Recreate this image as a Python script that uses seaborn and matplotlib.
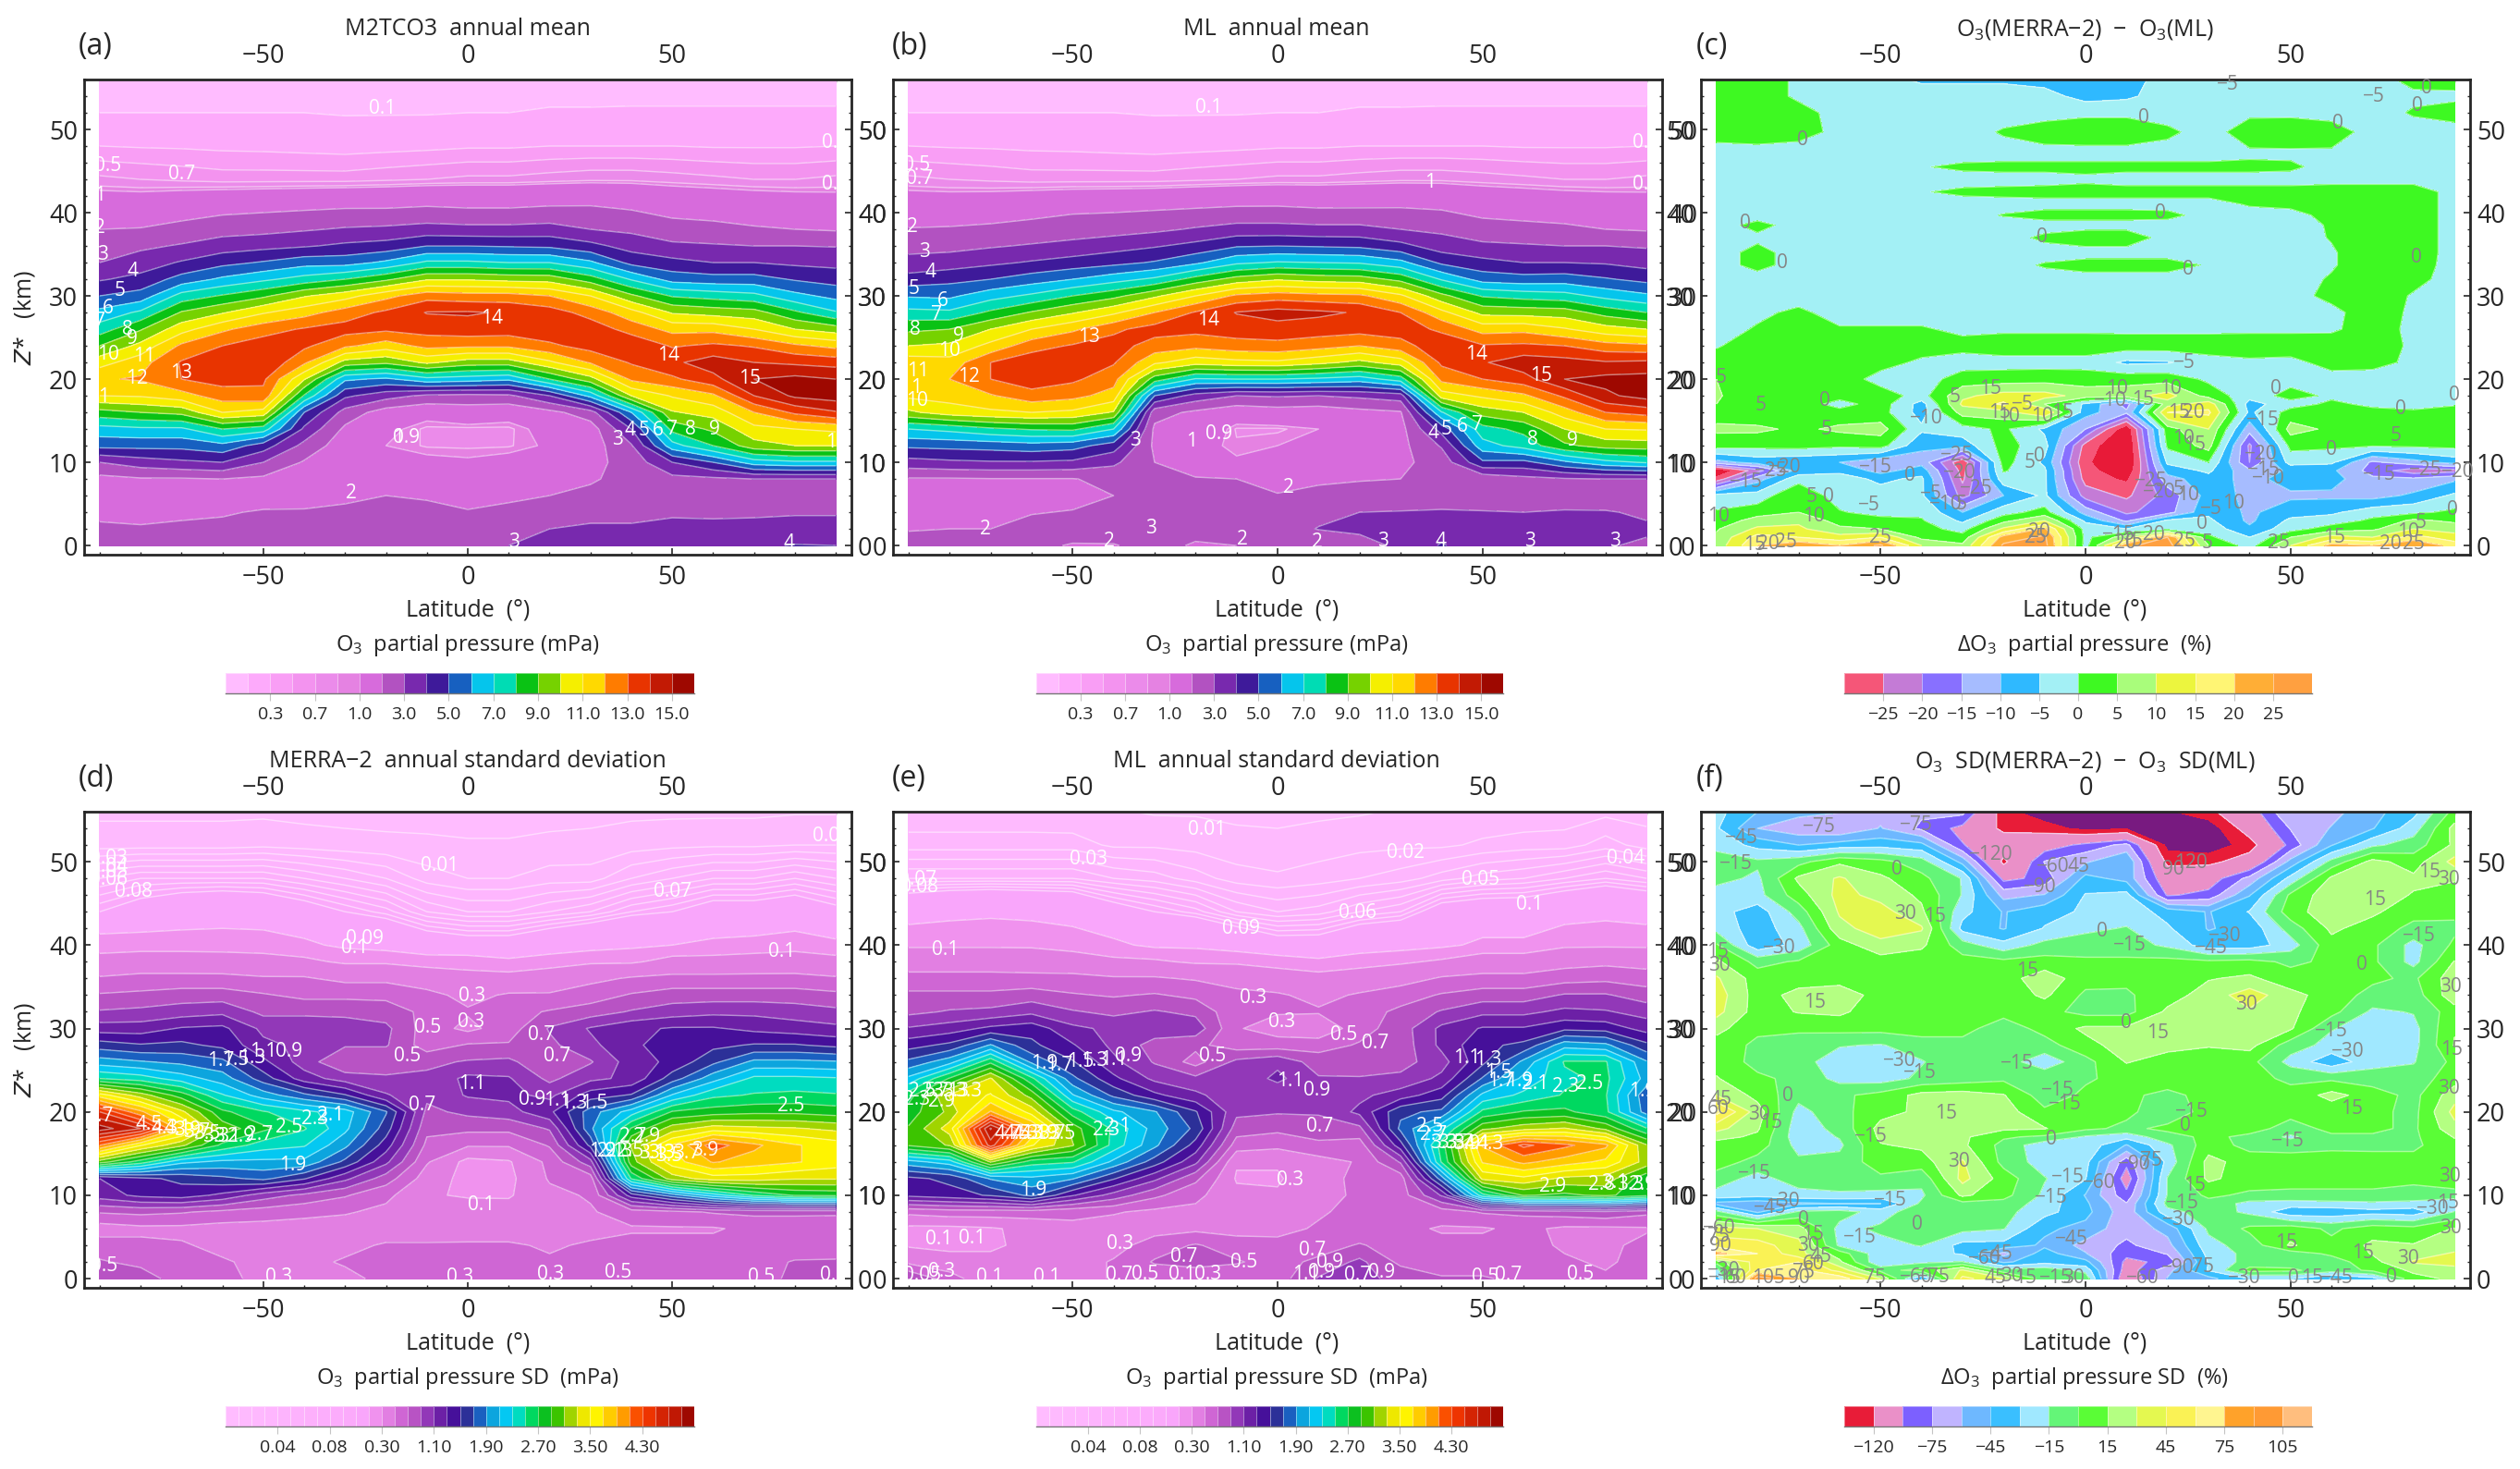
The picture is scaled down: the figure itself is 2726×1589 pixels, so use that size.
"""O3 partial pressure annual mean and SD: latitude vs altitude, six panels."""
import numpy as np
import matplotlib
import matplotlib.pyplot as plt
import matplotlib.ticker as mticker
from matplotlib.colors import ListedColormap
import seaborn as sns

matplotlib.use("Agg")

sns.set_style("ticks")
plt.rcParams["font.family"] = ["Open Sans", "DejaVu Sans"]
plt.rcParams["mathtext.default"] = "regular"
plt.rcParams["axes.unicode_minus"] = True

W, H = 2726, 1589

# Grid nodes
lats = [-90, -80, -70, -60, -50, -40, -30, -20, -10, 0, 10, 20, 30, 40, 50, 60, 70, 80, 90]
z_std = [0, 2, 4, 6, 8, 10, 12, 14, 16, 18, 20, 22, 24, 26, 28, 30, 32, 34, 36, 38, 40, 44, 48, 52, 56]
z_diff = [0, 1, 2, 3, 4, 6, 8, 9, 10, 12, 14, 16, 17, 18, 20, 22, 24, 26, 28, 30, 32, 34, 36, 38, 40, 42, 44, 46, 48, 50, 52, 54, 56]
z_diff_c = [0, 1, 2, 3, 4, 6, 8, 9, 10, 12, 14, 16, 17, 18, 20, 22, 24, 26, 28, 30,
            32, 33.7, 35.2, 37, 38.5, 39.7, 41, 42.5, 44, 45.5, 47, 49.7, 52, 54, 56]

# one row per latitude, one value per altitude node
m2_mean = [
    [2.6, 2.15, 1.8, 1.4, 1.7, 3, 5.3, 6.6, 8.6, 11, 11.9, 10.6, 9, 7.5, 6.3, 5, 3.9, 3, 2.5, 2, 1.5, .75, .3, .1, .06],
    [2.5, 2.1, 1.7, 1.4, 1.9, 3.5, 5.3, 6.8, 9, 11.1, 12.1, 11.6, 10.3, 8.9, 7.2, 5.4, 4.3, 3.5, 2.8, 2.05, 1.5, .7, .28, .1, .06],
    [2.45, 2.2, 1.8, 1.4, 1.9, 3.8, 5.3, 6.8, 9.3, 11.6, 13, 13.1, 12.2, 10.6, 9.1, 7.4, 5.4, 4.1, 3.1, 2.3, 1.7, .65, .27, .1, .06],
    [2.4, 2.25, 1.9, 1.4, 2, 4, 5.7, 8, 11, 12.5, 13.4, 13.6, 13, 11.8, 9.9, 8.1, 6.2, 4.7, 3.5, 2.6, 1.9, .6, .25, .1, .06],
    [2.4, 2.3, 2.1, 1.5, 1.8, 3, 4.5, 7.5, 10.6, 12.7, 13.2, 13.9, 13.5, 12.6, 10.9, 8.8, 6.8, 5.1, 3.7, 2.7, 2, .6, .24, .1, .06],
    [2.3, 2.25, 2.05, 1.8, 1.6, 1.9, 2.7, 3.8, 5, 7.9, 10.1, 12.2, 13.2, 13.1, 11.6, 9.9, 7.4, 5.6, 3.9, 2.9, 2.1, .6, .22, .1, .06],
    [2.3, 2.2, 2.1, 1.9, 1.6, 1.4, 1.4, 1.8, 2.6, 4.2, 6.2, 9.6, 12.2, 13.4, 12.5, 10.6, 8, 5.6, 4.2, 3.1, 2.2, .6, .2, .09, .05],
    [2.4, 2.3, 2.2, 2, 1.7, 1.3, 1, 1.1, 1.5, 3.4, 5.8, 9.2, 11.5, 13.2, 13.2, 11.7, 8.8, 6.2, 4.4, 3.2, 2.2, .65, .22, .09, .05],
    [2.5, 2.4, 2.25, 1.9, 1.5, 1.1, .88, .86, 1.15, 2.8, 6.7, 10.2, 12.3, 13.4, 14.05, 12.6, 9.9, 7.2, 5, 3.4, 2.3, .7, .24, .09, .05],
    [2.6, 2.3, 2.05, 1.75, 1.4, 1.05, .87, .85, 1.4, 2.7, 6.5, 9.5, 12.2, 13.6, 14.1, 12.4, 9.9, 7.2, 5, 3.3, 2.2, .75, .27, .1, .05],
    [3, 2.6, 2.2, 1.85, 1.5, 1.15, .88, .86, 1.2, 2.8, 6.2, 9.5, 12.2, 13.5, 13.9, 12.4, 9.7, 7, 4.9, 3.3, 2.2, .75, .27, .1, .05],
    [3.4, 3, 2.3, 2, 1.7, 1.35, 1.05, 1.15, 1.7, 4, 8, 10.8, 12.8, 13.7, 13.5, 12, 9.6, 7, 4.8, 3.4, 2.3, .8, .3, .11, .05],
    [3.5, 3.2, 2.6, 2.2, 1.9, 1.7, 1.5, 1.5, 2.55, 6.3, 9.6, 12.1, 13.4, 13.6, 12.6, 11, 8.5, 6.2, 4.3, 3, 2.3, .85, .3, .11, .05],
    [3.6, 3.1, 2.8, 2.5, 2.3, 2.4, 2.9, 4, 6, 10, 12.2, 13.1, 13.8, 12.6, 11.4, 9.2, 6.9, 4.7, 3.6, 2.8, 2.1, .85, .3, .11, .06],
    [3.7, 3.2, 2.9, 2.5, 2.7, 4, 6.6, 8.3, 9.9, 11.1, 12.8, 13.8, 12.9, 11.7, 9.9, 7.9, 5.6, 4.3, 3.2, 2.4, 1.8, .8, .3, .11, .06],
    [3.8, 3.3, 2.8, 2.6, 2.8, 5, 8, 9.2, 10.4, 11.8, 13.7, 14.5, 13.2, 11.7, 9.6, 7.6, 5.4, 4, 3.1, 2.3, 1.7, .75, .28, .11, .06],
    [3.85, 3.3, 2.85, 2.6, 3, 6.5, 9.6, 10.7, 12, 14, 15, 14, 12.9, 11, 9.4, 7.3, 5.4, 4, 3, 2.1, 1.6, .7, .28, .11, .06],
    [4.05, 3.4, 2.9, 2.6, 3, 6.8, 10, 11, 13.2, 15.2, 15.3, 13.8, 12.2, 10, 8.2, 6.3, 4.9, 3.8, 3, 2, 1.5, .7, .28, .11, .06],
    [4, 3.4, 2.9, 2.6, 3, 6.8, 10, 11.2, 13.9, 15.5, 15, 13.6, 11.7, 9.5, 7.1, 5.7, 4.6, 3.7, 2.95, 1.9, 1.4, .75, .3, .11, .06],
]
ml_mean = [
    [2.3, 1.95, 1.7, 1.3, 1.9, 3.6, 5.2, 7, 9.8, 11.2, 11.9, 11.6, 10, 8.8, 7.3, 5.9, 4.4, 3.3, 2.7, 2.05, 1.5, .75, .3, .1, .06],
    [2.2, 2, 1.6, 1.3, 1.9, 3.8, 5.3, 7.3, 10.5, 11.4, 12, 11.4, 10.2, 9, 7.2, 5.8, 4.7, 3.5, 2.7, 2.1, 1.5, .7, .28, .1, .06],
    [2.2, 2, 1.65, 1.35, 1.95, 3.9, 5.4, 7.8, 10.8, 11.9, 13, 13, 11.3, 10, 8.2, 6.6, 5, 3.8, 2.9, 2.2, 1.6, .65, .27, .1, .06],
    [2.15, 2.3, 1.95, 1.5, 1.95, 3.9, 5.6, 8.1, 11, 12.6, 13.6, 13.6, 12.6, 11, 9.1, 7.2, 5.5, 4.1, 3.1, 2.3, 1.8, .6, .25, .1, .06],
    [1.95, 2.3, 2.05, 1.7, 1.95, 3.8, 5.4, 8.2, 10.8, 12.3, 13.2, 13.5, 13.1, 11.8, 9.9, 8, 6, 4.4, 3.3, 2.5, 1.95, .6, .24, .1, .06],
    [1.95, 2.4, 2.3, 2, 2.3, 3.2, 4.5, 7, 9.9, 11.6, 12.4, 13.1, 13.4, 12.8, 10.8, 8.7, 6.6, 4.7, 3.6, 2.6, 2, .6, .22, .1, .06],
    [2.3, 2.7, 2.6, 2.4, 2.2, 2, 1.8, 1.8, 2.4, 5, 8.5, 11.2, 12.6, 13.4, 12, 9.8, 7.2, 5.1, 3.9, 2.8, 2.1, .6, .2, .09, .05],
    [1.9, 2.3, 2.4, 2.3, 2.05, 1.6, 1.15, 1.4, 1.8, 3.6, 6.9, 10.4, 12.3, 13.3, 13.1, 11, 8.4, 5.8, 4.3, 3.1, 2.2, .65, .22, .09, .05],
    [2, 2.5, 2.6, 2.3, 2, 1.05, .92, .88, 1.3, 3, 7, 10.7, 12.6, 13.5, 14.05, 12.2, 9.4, 6.8, 4.9, 3.4, 2.3, .7, .24, .09, .05],
    [2.5, 2.5, 2.4, 2.05, 1.7, 1.25, 1, .87, 1.5, 3.1, 7, 10.8, 12.7, 13.6, 14.4, 12.5, 9.9, 7.1, 5, 3.4, 2.3, .75, .27, .1, .05],
    [2, 3.05, 2.7, 2.25, 1.85, 1.5, 1.2, 1, 1.4, 3, 6.8, 10.3, 12.4, 13.5, 14.2, 12.3, 9.6, 7, 4.9, 3.3, 2.2, .75, .27, .1, .05],
    [2.8, 3.1, 3, 2.3, 1.95, 1.7, 1.5, 1.4, 1.7, 3.2, 6.5, 9.7, 12, 13.4, 13.9, 12.2, 9.5, 6.9, 4.8, 3.3, 2.2, .8, .3, .11, .05],
    [3.1, 3.2, 3.05, 2.4, 2, 1.8, 1.7, 1.65, 1.9, 3.5, 7.5, 10.5, 12.6, 13.5, 13, 11.2, 8.7, 6.3, 4.3, 3, 2.2, .85, .3, .11, .05],
    [4.1, 3.6, 3.1, 2.5, 2.2, 2.4, 3.1, 4.4, 6.9, 10.5, 12.3, 13.2, 13.7, 12.8, 11.3, 9.3, 6.9, 4.8, 3.5, 2.8, 2.1, .85, .3, .11, .06],
    [3.3, 3.4, 3.05, 2.5, 2.3, 4.8, 6.6, 7.6, 9.4, 11.2, 13, 13.9, 13.1, 11.6, 9.7, 7.9, 5.6, 4.3, 3.2, 2.4, 1.8, .8, .3, .11, .06],
    [3.1, 3.4, 3, 2.6, 2.7, 4.7, 7.4, 8.3, 10, 11.8, 13.6, 14.6, 13.2, 11.7, 9.6, 7.6, 5.4, 4, 3.1, 2.3, 1.7, .75, .28, .11, .06],
    [3.2, 3.4, 3.05, 2.7, 2.9, 5.8, 8.8, 10, 11.5, 13.2, 15, 14.4, 13, 11.1, 9.5, 7.4, 5.5, 4, 3, 2.2, 1.6, .7, .28, .11, .06],
    [3.05, 3.3, 3.05, 2.6, 3, 6.7, 9.4, 11, 13, 14.8, 15.3, 14.1, 12.4, 10.4, 8.6, 6.7, 5.1, 3.9, 3, 2, 1.5, .7, .28, .11, .06],
    [2.9, 3.1, 2.9, 2.6, 3, 7.1, 9.5, 11.1, 13.4, 15.4, 15.4, 14.2, 12.2, 10, 8, 6.2, 4.7, 3.6, 2.9, 1.9, 1.4, .75, .3, .11, .06],
]
m2_sd = [
    [.9, .72, .6, .4, .72, 1.2, 1.3, 3, 4.1, 5, 4.5, 3.6, 2.5, 2, 1.6, 1.2, .92, .72, .52, .35, .25, .1, .06, .015, .008],
    [.8, .65, .55, .45, .75, 1.35, 1.45, 2.6, 3.52, 4.7, 3.95, 3.2, 2.4, 1.92, 1.52, 1.2, .95, .75, .55, .38, .25, .12, .07, .015, .008],
    [.6, .55, .52, .45, .72, 1.4, 1.55, 2.15, 3.15, 3.8, 3.35, 2.8, 2.2, 1.85, 1.55, 1.32, 1, .8, .55, .38, .25, .14, .07, .015, .008],
    [.55, .52, .45, .42, .65, 1.25, 1.65, 2.05, 2.65, 3.02, 2.75, 2.32, 2, 1.75, 1.45, 1.35, 1.05, .8, .55, .37, .25, .15, .07, .015, .008],
    [.45, .45, .42, .42, .6, 1, 1.75, 2.05, 2.4, 2.75, 2.52, 2, 1.6, 1.35, 1.15, 1.05, .85, .72, .52, .35, .25, .14, .07, .017, .008],
    [.45, .45, .42, .42, .55, .85, 1.52, 2.05, 2.32, 2.52, 2.35, 1.75, 1.2, 1, 1.05, 1.05, .85, .65, .52, .33, .22, .12, .06, .015, .007],
    [.45, .52, .45, .4, .52, .72, 1.15, 1.65, 1.95, 2.15, 2.2, 1.52, 1, .72, .92, 1, .85, .65, .45, .28, .18, .1, .05, .013, .007],
    [.55, .6, .52, .4, .45, .55, .8, 1.15, 1.4, 1.6, 1.72, 1.12, .95, .72, .92, .95, .8, .65, .45, .28, .16, .085, .04, .012, .007],
    [.6, .6, .52, .4, .35, .32, .4, .52, .65, .75, .85, .95, .95, .85, .6, .6, .65, .55, .4, .25, .13, .06, .025, .012, .006],
    [.58, .58, .52, .42, .4, .28, .24, .24, .52, .75, .95, 1.12, 1.15, .92, .72, .45, .52, .45, .35, .25, .12, .05, .02, .011, .006],
    [.55, .55, .52, .42, .38, .28, .25, .28, .52, .75, 1.02, 1.15, 1.12, .95, .72, .6, .62, .52, .35, .22, .12, .05, .02, .011, .006],
    [.52, .52, .48, .42, .42, .45, .52, .55, .72, .92, 1.25, 1.05, .85, .72, .85, .92, .72, .52, .38, .25, .14, .06, .025, .012, .007],
    [.55, .55, .52, .45, .48, .52, .6, 1.02, 1.55, 1.85, 1.8, 1.4, 1.05, .88, 1.05, 1.12, .8, .6, .45, .28, .16, .07, .025, .013, .007],
    [.65, .62, .55, .48, .6, 1.4, 2.52, 3.02, 3.12, 2.72, 2.2, 1.52, 1.15, 1.2, 1.25, 1.25, .92, .72, .52, .28, .18, .09, .04, .015, .008],
    [.6, .6, .55, .48, .65, 1.8, 3.2, 3.6, 3.72, 3.2, 2.72, 2.12, 1.6, 1.35, 1.42, 1.32, 1, .8, .55, .35, .2, .1, .05, .017, .008],
    [.6, .55, .55, .48, .72, 2.2, 3.4, 3.92, 4.2, 3.4, 2.8, 2.45, 2.02, 1.65, 1.45, 1.32, 1.05, .8, .55, .35, .22, .12, .06, .018, .008],
    [.6, .6, .55, .55, .75, 2.52, 3.4, 3.8, 3.95, 3.35, 2.85, 2.52, 2.35, 1.95, 1.52, 1.25, 1.05, .8, .55, .37, .23, .12, .06, .018, .008],
    [.75, .72, .55, .55, .75, 2.72, 3.32, 3.72, 3.72, 3.32, 2.85, 2.55, 2.35, 1.95, 1.52, 1.2, 1, .8, .55, .38, .25, .13, .07, .02, .009],
    [.8, .72, .6, .52, .75, 2.75, 3.32, 3.6, 3.6, 3.25, 2.8, 2.52, 2.32, 1.92, 1.45, 1.15, .95, .75, .52, .35, .22, .11, .06, .02, .009],
]
ml_sd = [
    [.9, .45, .28, .25, .55, 1.35, 1.45, 2.02, 2.92, 2.92, 2.8, 2.6, 2.15, 1.75, 1.42, 1.12, .85, .75, .55, .42, .28, .15, .06, .025, .012],
    [.6, .35, .27, .25, .6, 1.42, 1.55, 2.2, 3.12, 3.4, 3.15, 3.32, 2.72, 2.02, 1.55, 1.2, .92, .75, .55, .42, .28, .17, .06, .025, .012],
    [.32, .35, .27, .28, .6, 1.52, 1.92, 3.12, 4.6, 4.92, 3.92, 3.52, 3.32, 2.65, 1.92, 1.35, .95, .75, .55, .42, .28, .18, .06, .025, .012],
    [.32, .35, .35, .35, .6, 1.75, 2.05, 2.6, 3.52, 3.92, 3.42, 3.02, 2.55, 1.85, 1.55, 1.42, 1.05, .8, .55, .4, .28, .17, .06, .025, .012],
    [.4, .4, .4, .45, .55, 1.32, 1.92, 2.52, 3.12, 3.02, 2.6, 2.12, 1.75, 1.52, 1.32, 1.15, .92, .72, .55, .38, .25, .16, .06, .025, .011],
    [.52, .52, .42, .4, .52, 1.02, 1.52, 2.05, 2.42, 2.45, 2.15, 1.65, 1.35, 1.15, 1.05, 1.05, .85, .68, .52, .33, .22, .12, .05, .018, .011],
    [.55, .72, .6, .42, .45, .75, 1.15, 1.6, 1.95, 2.02, 1.92, 1.35, 1.05, .88, .82, 1.02, .92, .72, .52, .32, .18, .1, .045, .018, .009],
    [.6, .75, .72, .45, .45, .55, .75, 1.15, 1.42, 1.65, 1.52, 1.15, .95, .62, .75, 1.02, .85, .65, .48, .28, .18, .085, .035, .016, .009],
    [.55, .72, .6, .42, .4, .35, .28, .32, .6, .8, .95, .95, .95, .95, .6, .52, .55, .55, .42, .28, .15, .06, .025, .013, .008],
    [.6, .62, .55, .45, .4, .32, .28, .32, .55, .75, .92, .95, 1.15, 1.05, .6, .4, .52, .52, .38, .25, .12, .05, .022, .012, .008],
    [.92, .75, .6, .52, .48, .4, .42, .42, .65, .82, .92, .92, .92, .8, .62, .33, .52, .45, .35, .22, .12, .055, .025, .015, .008],
    [.95, .95, .72, .55, .55, .55, .55, .52, .6, .85, 1.15, 1.05, .92, .75, .72, .62, .6, .52, .38, .25, .15, .07, .03, .017, .009],
    [.85, .65, .6, .55, .6, .6, .6, .92, 1.42, 1.75, 1.65, 1.2, .95, .82, .78, .8, .75, .6, .42, .28, .16, .08, .035, .018, .011],
    [.72, .6, .55, .48, .6, 1.12, 1.8, 2.52, 2.6, 2.25, 1.75, 1.42, 1.15, 1.02, 1.15, 1.15, .92, .72, .52, .32, .18, .12, .045, .018, .011],
    [.72, .6, .55, .48, .72, 2.42, 3.35, 3.72, 3.92, 3.05, 2.55, 2.15, 1.72, 1.45, 1.45, 1.32, 1.05, .8, .55, .38, .22, .13, .055, .022, .012],
    [.65, .6, .55, .55, .75, 2.92, 3.45, 3.95, 4.35, 3.22, 2.72, 2.35, 2.15, 1.95, 1.55, 1.32, 1.05, .8, .55, .38, .22, .13, .06, .025, .012],
    [.55, .52, .48, .46, .8, 2.85, 3.25, 3.8, 4.15, 3.32, 2.75, 2.52, 2.45, 2.52, 2.02, 1.45, 1.15, .92, .62, .42, .28, .15, .07, .025, .014],
    [.52, .48, .46, .46, .85, 2.95, 3.22, 3.65, 3.95, 3.05, 2.55, 2.52, 2.55, 2.52, 1.95, 1.42, 1.12, .92, .65, .45, .28, .17, .08, .035, .017],
    [.6, .55, .55, .48, .75, 2.75, 2.75, 3.22, 3.12, 2.52, 1.8, 1.75, 2.02, 1.92, 1.55, 1.22, 1.02, .8, .6, .42, .28, .15, .07, .025, .016],
]
diff_mean = [
    [7, 6, 4.5, 2, .5, -3, -28, -35, -12, 2, 6, 3, 5, 5.5, 5, 2.5, -.5, -2, -2, -2, -2, -2, -2, -2, -2, -2, -2, -2, -2, -2, -2, 1.8, 3, 3, 3],
    [20, 17, 11, 7, 3, -3, -12, -22, -8, 1.5, 6, 1.5, 3.5, 2, 3, 3.5, 3, .5, -1, -2, -2, 1.5, 1.5, -1, 1.5, -2, -2, -2, -2, -2, -2, 2.5, 2, 3, 3],
    [24, 15, 11, 9, 5, 5, -2, -8, -9, 2, 4, 1.5, 3, 2, 3, 3.5, 3.5, 3, 1, -2, -2, -2, -2, -2, -2, -2, -2, -2, -2, -2, -2, 1.5, 2, -1, -1],
    [20, 12, 6, 3, .5, -3, -3, -6, -10, 1, 6, 2, -2, 2, 3, 3.5, 3, .5, -2, -2, -2, -2, -2, -2, -2, -2, -2, -2, -2, -2, -2, -1, -2, -2, -2],
    [26, 15, 5, 2, -2, -3, -6, -12, -14, 2, 7, 2, 2.5, 2.5, -2, 2, 3, .5, -2, -2, -2, -2, -2, -2, -2, -2, -2, -2, -2, -2, -2, -2, -2, -2, -3],
    [10, 3.5, 2, .5, -1, -4, -4, -7, -12, -9, -4, -7, -7, -2, -2, -1, 2.5, .5, -2, -2, -2, -2, -2, -2, -2, -2, -2, -.3, -2, -.3, -2, -2, -2, -2, -6],
    [6, 2, -2, -6, -10, -22, -26, -27, -29, -8, -2, 7, 11, 9, 2, -2, 1.5, -1, -2, -2, -2, -2, -2, -2, -2, -2, -2, 1, -2, 1, -2, -2, -2, -2, -6],
    [26, 22, 11, 3.5, -2, -10, -2, .5, 2, 2, 1, 8, 16, 12, 2.5, -2, 3, -1, -2, -2, -2, -2, -2, -2, -2, .3, -2, 1.5, -2, 1.5, -2, .5, -2, -2, -6],
    [27, 26, 21, 10, 2, -4, -4, -4, -6, -3, -6, 15, 5, 12, 3, -2, 3, -1, -2, -2, -2, .5, -2, 1, -2, 2, -2, 2, -2, 1.5, -2, 2.5, -2, -3, -7],
    [-2, -1.5, -2, -6, -12, -22, -27, -28, -29, -27, -15, -8, -6, 8, 2.5, -2, 3, -1, -2, -2, -2, 2, -2, 3, -2, 2, -2, 2, -1, 1.5, -2, 3, -1, -7, -8],
    [24, 8, -5, -16, -21, -26, -31, -34, -36, -36, -34, -14, -17, 8, 3, -6, 2.5, -1, -2, -2, -2, 2, -2, 3, -2, 2, -2, 2, -2, 1.5, -2, 3, -1, -6, -7],
    [28, 25, -2, -4, -17, -18, -12, -8, -4, 1, 3, 15, 8, 12, 3, -5.5, 2.5, -1, -2, -2, -2, 2, -2, -2, -2, 1.5, -2, 2, -2, 1.5, -2, 1, -2, -2.5, -3],
    [5, 1, -2, -4, -6, -8, -7, -4, 0, 7, 10, 16, 13, 3, -1, -2, 2.5, -1, -2, -2, -2, -.5, -2, -2, -2, -2, -2, 2, -2, 1.5, -2, -2, -2, -2, -3],
    [-2, -5, -9, -11, -11, -11, -12, -14, -20, -21, -13, -6, -7, -3, -2, -1, 3, -1, -2, -2, -2, -2, -2, -2, -2, -2, .5, 2, -2, 1.5, -1, 2.5, -1, -2, -3],
    [10, 5, -2, -4, -7, -11, -7.5, -9, -3, 1.5, 7, 2, -2, 2, -2, -1.5, 3, -1, -2, -2, -2, -2, -2, -2, -2, -2, 1.5, 2, -2, 1, -1, 3, -1, -2, -2],
    [22, 12, 2.5, -2.5, -6, -11, -8, -9, -4, 1, 4, 1, 1, -1, -2, 2, 3.5, -1, -1.5, 1.5, .5, -.5, -.5, .3, .5, 2, .5, 3, -2, -2, -1, 2.5, -2, -2, -2],
    [20, 10, 4, 1, -2, -12, -14, -17, -16, .5, 5, 1.5, -1, -2, -2, 1.5, 3, 3, 3, 3, 3, 3, 3, 3, 3, 3, 3, 3, -2, -2, -2, -2, -2, -2, -2],
    [25, 17, 10, 6, -1, -9, -14, -23, -12, 1, 4, .5, -1, -2, -2, -1, -1, -1.5, -1, -.5, 1.5, 2.5, 3, 3, 3, 3, 3, 3, -2, -2, -2, -2, .5, -1, 1.5],
    [18, 12, 8, 4, 1, -4, -11, -22, -8, 1.5, 4, 2, -.5, -2, -2, -2, -2, -2, -2, -2, -2, -2, -2, -2, -2, -2, -2, -2, -2, -2, -2, -2, 2, -1, 2],
]
diff_sd = [
    [-40, -20, 5, 80, 55, 35, -10, -50, -20, -8, 8, 8, 20, 35, 65, 30, 16, 10, 8, 20, 35, 38, 32, 18, 2, -20, -24, -22, -10, -7, -20, -28, -25],
    [100, 60, 55, 60, 52, 30, -48, -55, -25, -20, -6, 8, 12, 17, 22, 10, 3, -5, -3, 3, 8, 8, 8, -5, -40, -38, -38, -20, -18, -12, -35, -60, -45],
    [75, 65, 60, 35, 35, 22, -12, -48, -20, -8, -12, -20, -24, -24, -20, -10, -4, -10, -8, 3, 16, 20, 8, 2, -25, -20, -8, 8, 18, -5, -45, -70, -55],
    [70, 40, 18, 8, -18, -20, -8, -45, -18, -5, -10, -18, -14, -10, -5, -3, -20, -22, -14, 5, 18, 25, 8, 4, 8, 25, 32, 35, 32, 12, -38, -74, -59],
    [30, -5, -28, -25, -20, -12, -22, -45, -20, -3, 8, 14, 18, 20, 10, 5, -22, -28, -16, 5, 6, 8, 6, 8, 25, 38, 36, 25, 18, 5, -35, -59, -65],
    [-46, 5, -18, -22, -14, -4, -5, -12, -18, -10, 8, 18, 22, 22, 18, 20, -12, -16, -8, 8, 6, 6, 7, 6, 18, 32, 18, 12, 4, -8, -40, -78, -72],
    [50, 32, -14, -32, -35, -10, -6, -5, 18, 35, 32, 18, 18, 22, 25, 22, -8, -5, -5, 5, 6, 6, 10, 6, -8, -35, -25, -16, -16, -50, -89, -95, -70],
    [32, -10, -48, -65, -35, -14, -10, -5, 5, 8, -5, -5, 2, 18, 22, 16, -3, -8, -5, -8, 5, 5, 8, 4, -25, -46, -46, -65, -95, -125, -105, -125, -130],
    [-8, -5, -35, -38, -48, -42, -25, -22, -18, -14, -22, -25, -3, 16, 3, -8, -4, -24, -6, 5, 5, 18, 24, 6, -10, -29, -35, -59, -85, -74, -100, -128, -145],
    [-5, -20, -40, -59, -65, -50, -40, -42, -46, -29, -25, -20, -17, 3, 5, 3, -2, -5, 10, 18, -5, -3, 6, 3, -8, -18, -28, -29, -40, -62, -85, -140, -150],
    [-110, -100, -95, -85, -78, -70, -70, -74, -85, -100, -85, -46, -25, -3, 3, 3, 5, 16, 22, 18, -5, -2, 3, 3, -8, -14, -22, -25, -50, -46, -70, -137, -150],
    [-59, -65, -85, -74, -65, -55, -20, -10, -14, -14, -25, -18, -5, 3, -8, -4, 8, 8, 20, 20, 18, 8, 8, 5, -18, -28, -35, -92, -105, -125, -140, -150, -137],
    [-50, -29, -29, -25, -20, -12, -8, -5, 3, 18, 20, 8, 3, 3, 5, 5, 8, 8, 16, 22, 22, 22, 14, 3, -38, -46, -46, -85, -100, -125, -145, -145, -125],
    [-29, 5, -8, -10, -8, 3, -18, -20, -3, 8, 8, -5, -3, 5, 6, 6, 5, 5, 20, 22, 28, 38, 18, 5, -38, -40, -29, -46, -70, -110, -128, -110, -100],
    [-29, 3, -8, -8, 17, 8, -40, -22, -3, 5, 6, -5, -18, -5, 4, 5, -3, -20, -8, 17, 18, 20, 6, -3, -22, -8, 8, 3, -25, -55, -85, -74, -59],
    [-46, -8, -8, 3, 4, -3, -40, -20, -3, 5, 6, -3, -2, 3, 6, 20, -3, -40, -20, -14, 5, 8, 5, 3, 10, 18, 25, 25, 18, -10, -46, -59, -65],
    [-35, 3, 10, 16, 18, 8, -35, -18, -3, 5, 5, -3, -2, 3, 5, 8, -8, -20, -25, -22, -18, -5, 3, 3, 3, 8, 18, 22, 25, 20, -18, -46, -50],
    [10, 18, 32, 22, 16, 5, -38, -20, -5, 3, 5, -3, -3, -3, -5, -5, -8, -16, -20, -20, -14, -8, -3, -20, -20, -4, 5, 14, 18, 8, -8, -22, -35],
    [18, 25, 35, 32, 22, 16, -14, -29, -5, 8, 8, 10, 16, 25, 35, 24, 8, 4, 16, 14, 8, 25, 24, 16, 3, -3, 3, 3, 18, 35, 18, 20, 5],
]

# Contour levels and band colours, from the colour bars
mean_levels = [0, .1, .3, .5, .7, .9, 1, 2, 3, 4, 5, 6, 7, 8, 9, 10, 11, 12, 13, 14, 15, 16]
mean_colors = ["#ffbcff", "#fdaafb", "#f99ef5", "#f393ef", "#eb8bea", "#e582e2", "#d76bdc", "#b252c1", "#7829ae",
               "#3e1a9a", "#1760c0", "#05c5ec", "#00dcb4", "#0ac214", "#76d200", "#f5ef00", "#ffd900", "#ff7c00",
               "#e83400", "#c21a04", "#9e0800"]
mean_ticks = {2: "0.3", 4: "0.7", 6: "1.0", 8: "3.0", 10: "5.0", 12: "7.0", 14: "9.0", 16: "11.0", 18: "13.0", 20: "15.0"}

sd_levels = [0, .01, .02, .03, .04, .05, .06, .07, .08, .09, .1, .2, .3, .5, .7, .9, 1.1, 1.3, 1.5, 1.7, 1.9, 2.1, 2.3,
             2.5, 2.7, 2.9, 3.1, 3.3, 3.5, 3.7, 3.9, 4.1, 4.3, 4.5, 4.7, 4.9, 5.1]
sd_colors = ["#ffbcff", "#febafe", "#feb8fe", "#feb6fe", "#fdb4fd", "#fdb2fd", "#fdb0fc", "#fcaefc", "#fcacfc", "#fbaafb",
             "#f9a6fb", "#f092ee", "#e27fe2", "#cf66d4", "#b853c4", "#9238b8", "#6c20a6", "#46109a", "#2c3098", "#1a60c0",
             "#0ca5de", "#04c8f2", "#00dcc0", "#00d860", "#0cc020", "#3cc400", "#a0d400", "#eee800", "#fff400", "#ffcc00",
             "#ff9c00", "#fa5000", "#ee3400", "#d42404", "#c01804", "#9e0800"]
sd_ticks = {4: "0.04", 8: "0.08", 12: "0.30", 16: "1.10", 20: "1.90", 24: "2.70", 28: "3.50", 32: "4.30"}

dmean_levels = [-30, -25, -20, -15, -10, -5, 0, 5, 10, 15, 20, 25, 30]
dmean_colors = ["#f55678", "#c47bd6", "#8870ff", "#a6bcff", "#2fb9ff", "#a3f0f5", "#3ef922", "#a9fd7b", "#ecf53e",
                "#fff574", "#ffae36", "#ffa040"]
dmean_under, dmean_over = "#e81a38", "#ffb46a"
dmean_ticks = {1: "−25", 2: "−20", 3: "−15", 4: "−10", 5: "−5", 6: "0", 7: "5", 8: "10", 9: "15", 10: "20", 11: "25"}

dsd_levels = [-135, -120, -90, -75, -60, -45, -30, -15, 0, 15, 30, 45, 60, 75, 90, 105, 120]
dsd_colors = ["#e81c38", "#ea90c8", "#7c60ff", "#c0b4ff", "#6eb8ff", "#3abfff", "#a0e8ff", "#64f578", "#5afd36", "#b4ff82",
              "#e4f850", "#faf255", "#fff590", "#ffa22a", "#ff9a34", "#ffbe7e"]
dsd_under, dsd_over = "#781a80", "#ffbe7e"
dsd_ticks = {1: "−120", 3: "−75", 5: "−45", 7: "−15", 9: "15", 11: "45", 13: "75", 15: "105"}

# Inline contour labels: latitude, altitude, text
a_labels = [(-20.8, 52.5, "0.1"), (-70, 44.6, "0.7"), (-88, 45.6, "0.5"), (-90, 42.1, "1"), (-90, 38.2, "2"), (-89.3, 34.9, "3"),
            (-82, 32.9, "4"), (-85, 30.6, "5"), (-88, 28.5, "6"), (-90, 27, "7"), (-83.3, 26, "8"), (-82, 24.8, "9"), (-88, 22.9, "10"),
            (-79, 22.7, "11"), (-81, 20.1, "12"), (-70, 20.7, "13"), (-89, 17.8, "1"), (6, 27.3, "14"), (49, 22.8, "14"), (69, 20.1, "15"),
            (-17, 13, "1"), (-15, 13, "0.9"), (36.7, 12.7, "3"), (39.7, 13.8, "4"), (43, 13.8, "5"), (46.6, 13.8, "6"), (50, 14, "7"),
            (54.5, 14, "8"), (60.3, 14, "9"), (88.8, 12.4, "1"), (-28.4, 6.3, "2"), (11.2, .4, "3"), (78.5, .3, "4"),
            (89.8, 48.4, "0.3"), (89.8, 43.4, "0.9")]
b_labels = [(-16.8, 52.6, "0.1"), (-88, 45.7, "0.5"), (-87.3, 44.1, "0.7"), (37.3, 43.6, "1"), (89.8, 48.4, "0.3"), (89.8, 43.4, "0.9"),
            (-89, 38.3, "2"), (-86.2, 35.3, "3"), (-84.7, 32.8, "4"), (-88.7, 30.8, "5"), (-81.6, 29.4, "6"), (-83.3, 27.7, "7"),
            (-88.5, 25.9, "8"), (-77.8, 25.2, "9"), (-80, 23.4, "10"), (-87.7, 21, "11"), (-75.3, 20.3, "12"), (-46, 25.1, "13"),
            (-16.8, 27.1, "14"), (48.4, 23, "14"), (64.3, 20.4, "15"), (-88.2, 19, "1"), (-88, 17.4, "10"), (-34.8, 12.6, "3"),
            (-20.9, 12.5, "1"), (-14.3, 13.4, "0.9"), (38, 13.5, "4"), (41.1, 14, "5"), (45, 14.3, "6"), (48.7, 14.5, "7"),
            (62.3, 12.7, "8"), (72, 12.6, "9"), (2.7, 7, "2"), (-71.3, 2, "2"), (-31, 2.1, "3"), (-41.1, .5, "2"), (-8.6, .7, "2"),
            (9.7, .4, "2"), (25.7, .5, "3"), (39.9, .5, "4"), (61.6, .5, "3"), (82.3, .5, "3")]
d_labels = [(89, 53.1, "0.01"), (-6.8, 49.5, "0.01"), (-81.8, 46.4, "0.08"), (50, 46.4, "0.07"), (-87.7, 50.4, "0.03"), (-87.7, 49.4, "0.04"),
            (-87.7, 48.7, "0.05"), (-87.7, 47.9, "0.06"), (-25.3, 40.7, "0.09"), (-27.7, 39.7, "0.1"), (76.7, 39.2, "0.1"), (1.1, 33.9, "0.3"),
            (.8, 30.8, "0.3"), (-9.9, 30.1, "0.5"), (18.1, 29.2, "0.7"), (-14.7, 26.7, "0.5"), (21.9, 26.7, "0.7"), (1.1, 23.4, "1.1"),
            (-11.2, 20.8, "0.7"), (15.8, 21.5, "0.9"), (21.9, 21.3, "1.1"), (26, 21, "1.3"), (30.8, 21, "1.5"), (-50, 27.2, "1.1"),
            (-43.8, 27.2, "0.9"), (-60.3, 26.1, "1.7"), (-56.8, 26.2, "1.5"), (-52.7, 26.5, "1.3"), (79, 20.7, "2.5"), (-33.6, 19.6, "2.1"),
            (-37.4, 19.1, "2.3"), (-43.8, 18.1, "2.5"), (-51, 17.2, "2.7"), (-55.5, 17, "2.9"), (-42.9, 13.6, "1.9"), (3.4, 8.8, "0.1"),
            (-90, 19.5, "4.7"), (-78, 18.5, "4.5"), (-74, 18, "4.3"), (-71, 18, "4.1"), (-68.5, 17.8, "3.9"), (-66.4, 17.6, "3.7"),
            (-63.7, 17.4, "3.5"), (-61.6, 17, "3.3"), (-58.9, 17, "3.1"), (58, 15.4, "3.9"), (53.4, 15, "3.7"), (49.3, 14.7, "3.5"),
            (47.3, 15, "3.3"), (45.2, 15, "3.1"), (43.8, 17, "2.9"), (40.4, 17, "2.7"), (39.7, 15.3, "2.5"), (37, 15.3, "2.3"),
            (35, 15.3, "2.1"), (32.9, 15.2, "1.9"), (36.7, .7, "0.5"), (71.9, .2, "0.5"), (89.5, .4, "0.7"), (-46.3, .2, "0.3"),
            (-2, .2, "0.3"), (20.3, .5, "0.3"), (-89, 1.5, "0.5")]
e_labels = [(-17.3, 53.8, "0.01"), (31.3, 51.1, "0.02"), (-46, 50.3, "0.03"), (84.9, 50.4, "0.04"), (49.6, 47.8, "0.05"), (19.6, 43.9, "0.06"),
            (-8.9, 42, "0.09"), (61.4, 44.9, "0.1"), (-87.7, 47.9, "0.07"), (-87.3, 47, "0.08"), (-81, 39.4, "0.1"), (-5.9, 33.7, "0.3"),
            (1, 30.8, "0.3"), (16.2, 29.2, "0.5"), (23.8, 28.2, "0.7"), (-15.9, 26.7, "0.5"), (-36.5, 26.7, "0.9"), (-39.9, 26.2, "1.1"),
            (-44.7, 26.1, "1.3"), (-48.1, 26, "1.5"), (-53.2, 25.6, "1.7"), (-57, 25.8, "1.9"), (3.2, 23.7, "1.1"), (9.7, 22.6, "0.9"),
            (10.3, 18.3, "0.7"), (46.2, 26.4, "1.1"), (51.3, 26.2, "1.3"), (53.8, 24.7, "1.5"), (54.4, 23.7, "1.7"), (58.9, 23.7, "1.9"),
            (62.9, 23.4, "2.1"), (70.3, 23, "2.3"), (76.2, 23.3, "2.5"), (89, 22.5, "1.9"), (-88, 21.5, "2.3"), (-86.7, 22.5, "2.5"),
            (-83.5, 22.5, "2.7"), (-81, 22.5, "3.1"), (-78.5, 22.5, "3.3"), (-75.3, 22.5, "3.3"), (-81.9, 21.2, "2.9"), (-41.8, 17.8, "2.3"),
            (-39.2, 18.3, "2.1"), (-59.5, 10.6, "1.9"), (-65.8, 17.4, "4.7"), (-63.5, 17.4, "4.5"), (-61.5, 17.4, "4.3"), (-59.5, 17.4, "4.1"),
            (-57, 17.4, "3.9"), (-55, 17.4, "3.7"), (-52.5, 17.4, "3.5"), (51.9, 16.1, "4.3"), (48.7, 16.1, "4.1"), (46.2, 16.1, "3.9"),
            (44.3, 16.2, "3.7"), (42.4, 16.3, "3.5"), (40.5, 16.3, "3.3"), (38, 17.2, "2.7"), (37.1, 18.2, "2.5"), (67.1, 11, "2.9"),
            (79, 11.3, "2.8"), (82.3, 11.5, "3.1"), (86.1, 11.3, "3.3"), (89, 11.3, "2.9"), (3, 11.8, "0.3"), (-82.7, 4.7, "0.1"),
            (-74.4, 4.8, "0.1"), (-38.5, 4.2, "0.3"), (-22.8, 2.6, "0.7"), (-8.2, 2, "0.5"), (8.5, 3.4, "0.7"), (12.7, 2, "0.9"),
            (-81.9, .8, "0.3"), (-70.3, .2, "0.1"), (-56.3, .2, "0.1"), (-38.6, .4, "0.7"), (-32.3, .5, "0.5"), (-23.4, .5, "0.1"),
            (-17.1, .5, "0.3"), (7, .5, "1.1"), (10.8, .7, "0.9"), (19.6, .4, "0.7"), (25.3, .7, "0.9"), (50.6, .2, "0.5"), (56.3, .4, "0.7"),
            (73.8, .5, "0.5"), (-86.7, .4, "0.05")]
c_labels = [(-69, 48.7, "0"), (14.3, 51.4, "0"), (61.5, 50.7, "0"), (83.3, 55, "0"), (81, 52.8, "0"), (70.4, 53.9, "−5"), (34.7, 55.4, "−5"),
            (-83, 38.7, "0"), (-74, 33.9, "0"), (18.3, 39.9, "0"), (-10.7, 37.1, "0"), (25, 33.2, "0"), (80.7, 34.6, "0"), (24, 22, "−5"),
            (-89, 20.2, "5"), (-79.3, 16.8, "5"), (-63.7, 17.4, "0"), (-63.3, 14, "5"), (-23.3, 18.8, "15"), (-31.9, 17.8, "5"), (7.7, 18.8, "10"),
            (20.8, 18.8, "10"), (46.4, 18.8, "0"), (90, 18.1, "0"), (76.8, 16.4, "0"), (-15.3, 17, "−5"), (6, 17.4, "−10"), (14, 17.5, "15"),
            (-21, 16, "15"), (-18.7, 15.5, "10"), (-10.7, 15.5, "10"), (-5.6, 16, "15"), (22.7, 16, "15"), (26.4, 15.9, "20"), (-38.9, 15.3, "−10"),
            (43.3, 15.1, "−15"), (75.7, 13.2, "5"), (60, 11.5, "0"), (24, 12.8, "10"), (26.7, 12.1, "15"), (-31.3, 10.8, "−25"), (42.7, 10.9, "−20"),
            (-11.2, 10.7, "0"), (-13.6, 10, "5"), (-73.3, 9.4, "−20"), (-51.3, 9.4, "−15"), (-76.7, 9, "−25"), (-42.9, 8.4, "0"), (-30.7, 8.7, "−20"),
            (43.6, 9.1, "−15"), (44.7, 8.1, "−10"), (71.7, 8.5, "−15"), (82.9, 9.1, "−25"), (90.7, 8.8, "−20"), (-82.7, 7.6, "−15"), (16, 7.7, "−25"),
            (-26.7, 6.8, "−25"), (18, 6.4, "−20"), (22.7, 6.7, "5"), (25, 6.1, "10"), (-66.9, 5.8, "5"), (-62.7, 5.8, "0"), (-37.7, 6.2, "−5"),
            (-34, 5, "−10"), (-30.3, 5, "5"), (-52.7, 4.8, "−5"), (30.7, 4.4, "−5"), (36, 5.1, "10"), (89.6, 4.3, "0"), (-89.6, 3.5, "10"),
            (-66.3, 3.5, "10"), (28.3, 2.6, "0"), (81.7, 2.7, "5"), (78.7, 1.6, "10"), (-11.2, 1.6, "20"), (-12.3, 1, "25"), (-50, .9, "25"),
            (60.7, .9, "15"), (8, 1.3, "−15"), (16.7, 1.3, "20"), (24, .5, "25"), (29.6, .3, "5"), (47, .3, "25"), (74.3, .2, "20"), (80, .2, "25"),
            (9.6, .3, "20"), (11.3, .5, "15"), (-80.7, .1, "15"), (-77.3, .2, "20"), (-73, .4, "25")]
f_labels = [(-65, 54.2, "−75"), (-41.3, 54.4, "−75"), (-84, 52.8, "−45"), (-85.3, 49.7, "−15"), (-46.1, 49.1, "0"), (-23, 50.8, "−120"),
            (-8, 49.4, "−60"), (-1.7, 49.4, "45"), (-11, 47, "−90"), (21.3, 49.1, "90"), (25.6, 49.9, "120"), (-44, 43.8, "30"), (-36.7, 43.4, "15"),
            (84, 48.7, "15"), (88.7, 47.8, "30"), (70.7, 45.4, "15"), (-74.7, 39.7, "−30"), (4, 41.6, "0"), (10.7, 40, "−15"), (34, 41.1, "−30"),
            (30.7, 39.7, "−45"), (81.3, 41.1, "−15"), (-89.7, 39.2, "15"), (-89.3, 37.5, "30"), (67.3, 37.6, "0"), (-14.3, 36.9, "15"), (89, 35, "30"),
            (-66, 33.1, "15"), (39.3, 32.9, "30"), (10, 30.7, "0"), (17.7, 29.4, "15"), (60, 29.7, "−15"), (64, 27.2, "−30"), (89.3, 27.5, "15"),
            (-45.3, 26.1, "−30"), (-40.4, 24.7, "−15"), (-16.7, 25.8, "−15"), (-6.7, 22.6, "−15"), (-5, 20.9, "−15"), (-72.7, 21.9, "0"),
            (-89, 21.5, "45"), (-89.6, 20.4, "60"), (88.7, 22.8, "30"), (65, 20.4, "15"), (-79.7, 19.7, "30"), (-76.7, 18.7, "15"), (-34, 19.8, "15"),
            (26, 20, "−15"), (24.4, 18.4, "0"), (-52.3, 17, "−15"), (-8.3, 16.7, "0"), (49.3, 16.5, "−15"), (-31, 14, "30"), (16, 14.2, "75"),
            (12, 13.7, "−90"), (-80.7, 12.6, "−15"), (-4.3, 12.1, "−15"), (3.3, 11.5, "−60"), (26.7, 11.1, "15"), (88.9, 12.3, "30"), (-8.4, 9.7, "−15"),
            (-73.6, 9.3, "−30"), (-76.9, 8.5, "−45"), (-47.6, 9.4, "−15"), (23.7, 9.1, "−15"), (88.3, 9, "15"), (84.7, 8.4, "−30"), (-68.7, 7, "0"),
            (22.7, 7.1, "−30"), (-41, 6.5, "0"), (89, 6.1, "30"), (-89.3, 6, "−60"), (-89.6, 5, "75"), (-89, 3.9, "90"), (-66.4, 5.3, "15"),
            (-67.6, 4, "30"), (-55, 4.9, "−15"), (-3.3, 4.7, "−45"), (49, 4.3, "15"), (-64.7, 2.6, "45"), (-66.4, 1.7, "60"), (-21.7, 2.9, "−45"),
            (-24.7, 2.4, "−60"), (67.6, 3.1, "15"), (78.7, 2.4, "30"), (28.7, 1.4, "75"), (22.4, 1.3, "−90"), (-88.3, 1, "−30"), (-77.3, .1, "105"),
            (-70, .1, "90"), (-51.3, .1, "75"), (-68.7, .7, "75"), (-22, .1, "45"), (-18, .3, "30"), (-41.3, .2, "−60"), (-37, .2, "−75"),
            (-14.7, .1, "15"), (-7.3, .1, "−15"), (-2.9, .1, "30"), (14, .1, "−60"), (38.7, .1, "−30"), (74.7, .2, "0"), (55.3, .1, "15"),
            (61.3, .1, "−45"), (50.7, .1, "0"), (-88, .1, "−15"), (-85.3, .1, "60")]


def px_axes(fig, left, top, right, bottom):
    return fig.add_axes([left / W, 1 - bottom / H, (right - left) / W, (bottom - top) / H])


def draw_panel(ax, values, z, levels, colors, labels, label_color, under=None, over=None):
    grid = np.array(values).T
    if under is not None:
        ax.contourf(lats, z, grid, levels=levels, colors=[under] + colors + [over], extend="both")
    else:
        ax.contourf(lats, z, grid, levels=levels, colors=colors)
    ax.contour(lats, z, grid, levels=levels[1:-1], colors="white", linewidths=1.0, alpha=0.5, linestyles="solid")
    for lat, alt, txt in labels:
        ax.text(lat, alt, txt, color=label_color, fontsize=15, ha="center", va="center")
    ax.set_xlim(-93.8, 93.8)
    ax.set_ylim(-1.1, 56)
    ax.xaxis.set_major_locator(mticker.MultipleLocator(50))
    ax.xaxis.set_minor_locator(mticker.MultipleLocator(10))
    ax.yaxis.set_major_locator(mticker.MultipleLocator(10))
    ax.yaxis.set_minor_locator(mticker.MultipleLocator(2))
    ax.tick_params(which="major", direction="in", length=5, width=1.2, top=True, right=True, labeltop=True, labelright=True,
                   labelsize=19.5)
    ax.tick_params(which="minor", direction="in", length=2.5, width=1, top=True, right=True)
    ax.tick_params(axis="x", which="major", pad=8)
    ax.tick_params(axis="y", which="major", pad=5)
    for spine in ax.spines.values():
        spine.set_linewidth(2)


def draw_colorbar(fig, left, top, right, bottom, colors, ticks):
    cax = px_axes(fig, left, top, right, bottom)
    strip = np.arange(len(colors))[None, :]
    sns.heatmap(strip, cmap=ListedColormap(colors), cbar=False, ax=cax, xticklabels=False, yticklabels=False,
                linewidths=0.6, linecolor=(1, 1, 1, 0.45))
    cax.set_xticks(list(ticks.keys()), list(ticks.values()), fontsize=14, rotation=0)
    cax.tick_params(axis="x", length=6, width=0.8, color="#c4c4c4", pad=4)
    cax.tick_params(axis="y", length=0)
    cax.spines["bottom"].set_visible(True)
    cax.spines["bottom"].set_color("#777777")
    cax.spines["bottom"].set_linewidth(1)


panels = [
    dict(tag="(a)", title="M2TCO3  annual mean", frame=(91, 86, 921, 600), center=506, tag_x=85, data=m2_mean, z=z_std,
         levels=mean_levels, colors=mean_colors, labels=a_labels, lc="white", cbar=(244, 751), ticks=mean_ticks,
         unit="O$_3$  partial pressure (mPa)", ylab=True),
    dict(tag="(b)", title="ML  annual mean", frame=(966, 86, 1798, 600), center=1381, tag_x=965, data=ml_mean, z=z_std,
         levels=mean_levels, colors=mean_colors, labels=b_labels, lc="white", cbar=(1121, 1626), ticks=mean_ticks,
         unit="O$_3$  partial pressure (mPa)", ylab=False),
    dict(tag="(c)", title="O$_3$(MERRA−2)  −  O$_3$(ML)", frame=(1840, 86, 2672, 600), center=2255, tag_x=1835, data=diff_mean,
         z=z_diff_c, levels=dmean_levels, colors=dmean_colors, labels=c_labels, lc="#858585", under=dmean_under, over=dmean_over,
         cbar=(1995, 2501), ticks=dmean_ticks, unit="ΔO$_3$  partial pressure  (%)", ylab=False),
    dict(tag="(d)", title="MERRA−2  annual standard deviation", frame=(91, 878, 921, 1393), center=506, tag_x=85, data=m2_sd,
         z=z_std, levels=sd_levels, colors=sd_colors, labels=d_labels, lc="white", cbar=(244, 751), ticks=sd_ticks,
         unit="O$_3$  partial pressure SD  (mPa)", ylab=True),
    dict(tag="(e)", title="ML  annual standard deviation", frame=(966, 878, 1798, 1393), center=1381, tag_x=965, data=ml_sd,
         z=z_std, levels=sd_levels, colors=sd_colors, labels=e_labels, lc="white", cbar=(1121, 1626), ticks=sd_ticks,
         unit="O$_3$  partial pressure SD  (mPa)", ylab=False),
    dict(tag="(f)", title="O$_3$  SD(MERRA−2)  −  O$_3$  SD(ML)", frame=(1840, 878, 2672, 1393), center=2255, tag_x=1835, data=diff_sd,
         z=z_diff, levels=dsd_levels, colors=dsd_colors, labels=f_labels, lc="#858585", under=dsd_under, over=dsd_over,
         cbar=(1995, 2501), ticks=dsd_ticks, unit="ΔO$_3$  partial pressure SD  (%)", ylab=False),
]

fig = plt.figure(figsize=(W / 100, H / 100), dpi=100, facecolor="white")

for p in panels:
    left, top, right, bottom = p["frame"]
    ax = px_axes(fig, left, top, right, bottom)
    draw_panel(ax, p["data"], p["z"], p["levels"], p["colors"], p["labels"], p["lc"], p.get("under"), p.get("over"))
    cx = p["center"]
    fig.text(cx / W, 1 - (top - 54) / H, p["title"], fontsize=18, ha="center", va="center")
    fig.text(p["tag_x"] / W, 1 - (top - 35) / H, p["tag"], fontsize=23, ha="left", va="center")
    fig.text(cx / W, 1 - (bottom + 60) / H, "Latitude  (°)", fontsize=18, ha="center", va="center")
    fig.text(cx / W, 1 - (bottom + 98) / H, p["unit"], fontsize=17, ha="center", va="center")
    if p["ylab"]:
        fig.text(27 / W, 1 - (top + bottom) / 2 / H, "$\\mathit{Z}$*   (km)", fontsize=18, rotation=90, ha="center", va="center")
    draw_colorbar(fig, p["cbar"][0], bottom + 128, p["cbar"][1], bottom + 150, p["colors"], p["ticks"])

fig.savefig("out.png", dpi=100, facecolor="white")
plt.close(fig)
